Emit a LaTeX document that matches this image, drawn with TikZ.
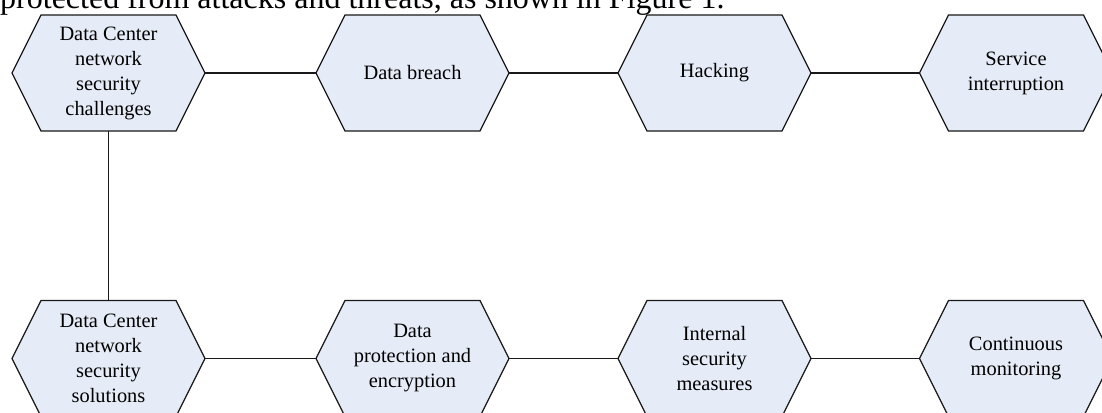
\documentclass[tikz,border=0pt]{standalone}
\usepackage{fontspec}
\setmainfont{Liberation Serif}
\pgfdeclarelayer{bg}
\pgfsetlayers{bg,main}
\definecolor{hexfill}{RGB}{230,236,247}
\definecolor{edge}{RGB}{25,25,25}
\tikzset{
  hexbox/.style={rectangle, minimum width=193pt, minimum height=116pt,
    inner sep=0pt, outer sep=0pt, align=center,
    font=\fontsize{20.4}{25}\selectfont},
  hexline/.style={draw=edge, line width=1.2pt, fill=hexfill, line join=miter},
  link/.style={draw=edge, line width=1.3pt},
  caption/.style={anchor=base west, inner sep=0pt, font=\fontsize{32}{38}\selectfont},
}
% A hexagon step: a text node with a six-sided outline behind it
\newcommand\hexstep[3]{%
  \node[hexbox] (#1) at (#2) {#3};
  \begin{pgfonlayer}{bg}
    \path[hexline] (#1.west) -- ([xshift=29pt]#1.north west)
      -- ([xshift=-29pt]#1.north east) -- (#1.east)
      -- ([xshift=-29pt]#1.south east) -- ([xshift=29pt]#1.south west) -- cycle;
  \end{pgfonlayer}
}
\begin{document}
\begin{tikzpicture}[x=1pt, y=-1pt]
  \begin{pgfonlayer}{bg}
    \fill[white] (0,0) rectangle (1102,412);
  \end{pgfonlayer}
  \useasboundingbox (0,0) rectangle (1102,412);

  \node[caption] (cap) at (0,9) {protected from attacks and threats, as shown in Figure 1.};

  % challenges row
  \hexstep{chal}{108.5,73}{Data Center\\network\\security\\challenges}
  \hexstep{breach}{412.5,73}{Data breach}
  \hexstep{hack}{714.5,73}{Hacking}
  \hexstep{interr}{1016,73}{Service\\interruption}

  % solutions row
  \hexstep{sol}{108.5,358.5}{Data Center\\network\\security\\solutions}
  \hexstep{encr}{412.5,358.5}{Data\\protection and\\encryption}
  \hexstep{internal}{714.5,358.5}{Internal\\security\\measures}
  \hexstep{monit}{1016,358.5}{Continuous\\monitoring}

  \draw[link] (chal.east) -- (breach.west);
  \draw[link] (breach.east) -- (hack.west);
  \draw[link] (hack.east) -- (interr.west);
  \draw[link] (chal.south) -- (sol.north);
  \draw[link] (sol.east) -- (encr.west);
  \draw[link] (encr.east) -- (internal.west);
  \draw[link] (internal.east) -- (monit.west);
\end{tikzpicture}
\end{document}
